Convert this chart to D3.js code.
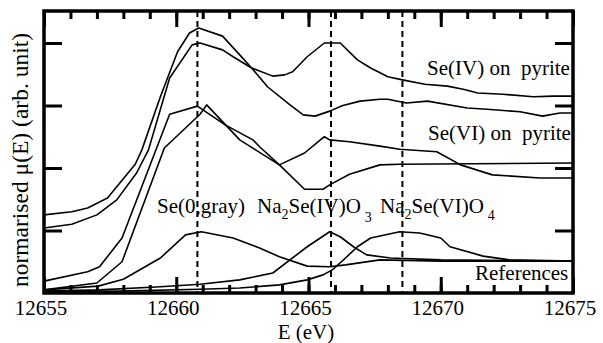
<!DOCTYPE html>
<html>
<head>
<meta charset="utf-8">
<script src="https://cdn.jsdelivr.net/npm/d3@7"></script>
<style>
  body { margin: 0; background: #fff; }
</style>
</head>
<body>
<div id="chart"></div>
<script>
// spectra: [energy (eV), normalised mu(E)]
var se4PyriteA = [[12655.0,1.25],[12656.05,1.30],[12656.65,1.36],[12657.4,1.52],[12658.45,2.06],[12658.7,2.29],
  [12659.4,3.14],[12660.05,3.86],[12660.5,4.16],[12660.85,4.24],[12661.75,4.11],[12662.4,3.81],[12662.85,3.60],
  [12663.45,3.30],[12664.3,3.01],[12664.8,2.85],[12665.25,2.83],[12665.8,2.91],[12666.3,3.00],[12666.95,3.07],
  [12667.7,3.10],[12668.0,3.10],[12668.7,3.04],[12669.5,3.07],[12671.0,2.96],[12671.75,2.94],[12673.0,2.90],
  [12673.85,2.83],[12674.5,2.88],[12675,2.88]];
var se4PyriteB = [[12655.0,1.04],[12656.05,1.10],[12657.0,1.25],[12657.75,1.49],[12658.5,1.92],[12658.95,2.29],
  [12659.75,3.44],[12660.6,3.97],[12660.9,4.00],[12661.75,3.89],[12662.15,3.78],[12662.85,3.60],[12663.65,3.47],
  [12664.1,3.49],[12664.4,3.54],[12664.95,3.78],[12665.6,4.00],[12666.2,4.00],[12666.85,3.73],[12667.35,3.60],
  [12668.0,3.46],[12668.55,3.41],[12669.4,3.34],[12670.25,3.31],[12670.85,3.26],[12671.4,3.20],[12672.35,3.18],
  [12673.5,3.14],[12674.25,3.15],[12675,3.15]];
var se6PyriteA = [[12655.0,0.19],[12656.65,0.34],[12657.1,0.42],[12657.95,0.88],[12659.75,2.86],[12660.8,2.99],
  [12661.85,2.69],[12662.9,2.45],[12663.15,2.34],[12663.9,2.05],[12664.85,1.66],[12665.55,1.66],[12665.8,1.73],
  [12666.55,1.90],[12667.7,2.05],[12668.45,2.06],[12675,2.08]];
var se6PyriteB = [[12655.0,0.05],[12657.0,0.16],[12657.95,0.50],[12659.55,2.32],[12660.9,2.86],[12661.15,3.01],
  [12662.4,2.45],[12663.9,2.05],[12664.85,2.24],[12665.45,2.45],[12665.6,2.50],[12665.8,2.45],[12666.55,2.42],
  [12667.7,2.35],[12668.45,2.30],[12669.85,2.26],[12670.75,2.05],[12671.95,1.89],[12673.75,1.84],[12675,1.84]];
var refSe0 = [[12655.0,0.05],[12657.05,0.11],[12658.0,0.22],[12659.4,0.56],[12660.35,0.93],[12660.95,0.98],
  [12662.15,0.88],[12663.15,0.72],[12663.9,0.58],[12664.95,0.43],[12665.8,0.42],[12666.4,0.45],[12667.7,0.53],
  [12670.0,0.51],[12675,0.51]];
var refSeO3 = [[12655.0,0.03],[12657.1,0.05],[12659.4,0.10],[12660.9,0.14],[12662.4,0.21],[12663.65,0.32],
  [12664.3,0.53],[12664.95,0.74],[12665.8,0.98],[12666.2,0.90],[12666.7,0.74],[12667.2,0.61],[12668.1,0.56],
  [12670.0,0.53],[12675,0.51]];
var refSeO4 = [[12655.0,0.02],[12657.85,0.03],[12660.9,0.06],[12662.4,0.08],[12663.9,0.13],[12664.95,0.21],
  [12665.55,0.29],[12665.9,0.37],[12666.4,0.56],[12666.85,0.74],[12667.35,0.88],[12668.45,0.98],[12669.2,0.96],
  [12670.0,0.88],[12670.35,0.74],[12671.6,0.59],[12672.6,0.53],[12675,0.51]];

var edgeLines = [12660.8, 12665.85, 12668.55];
var xTicks = [12655, 12660, 12665, 12670, 12675];
var xMinorTicks = d3.range(12655, 12676, 1);
var yTicks = [1, 2, 3, 4];

var allCurves = [se4PyriteA, se4PyriteB, se6PyriteA, se6PyriteB, refSe0, refSeO3, refSeO4];

var serif = "Liberation Serif";

// margin setup
var margin = {top: 11, right: 30, bottom: 50, left: 44},
    width = 603 - margin.left - margin.right,
    height = 343 - margin.top - margin.bottom;

var svg = d3.select("#chart")
  .append("svg")
    .attr("width", 603)
    .attr("height", 343)
  .append("g")
    .attr("transform", "translate(" + margin.left + "," + margin.top + ")");

var x = d3.scaleLinear()
    .domain([12655, 12675])
    .range([0, width]);

var y = d3.scaleLinear()
    .domain([0, height / 62.5])
    .range([height, 0]);

// dashed edge positions
svg.selectAll(".edge")
    .data(edgeLines)
    .enter().append("line")
    .attr("x1", d => x(d)).attr("x2", d => x(d))
    .attr("y1", 0).attr("y2", height)
    .attr("stroke", "black")
    .attr("stroke-width", 2)
    .attr("stroke-dasharray", "6,4");

// spectra
var line = d3.line()
    .x(d => x(d[0]))
    .y(d => y(d[1]));

svg.selectAll(".curve")
    .data(allCurves)
    .enter().append("path")
    .attr("d", line)
    .attr("fill", "none")
    .attr("stroke", "black")
    .attr("stroke-width", 1.6)
    .attr("stroke-linejoin", "round");

// inward ticks on all four sides
function tickAxis(axis, values, size, transform) {
    var g = svg.append("g")
        .attr("transform", transform)
        .call(axis.tickValues(values).tickSize(-size).tickFormat(""));
    g.select(".domain").remove();
    g.selectAll(".tick line").attr("stroke", "black").attr("stroke-width", 3);
    return g;
}
tickAxis(d3.axisBottom(x), xMinorTicks, 8, "translate(0," + height + ")");
tickAxis(d3.axisBottom(x), xTicks, 16, "translate(0," + height + ")");
tickAxis(d3.axisTop(x), xMinorTicks, 8, "translate(0,0)");
tickAxis(d3.axisTop(x), xTicks, 16, "translate(0,0)");
tickAxis(d3.axisLeft(y), yTicks, 18, "translate(0,0)");
tickAxis(d3.axisRight(y), yTicks, 18, "translate(" + width + ",0)");

// frame
svg.append("rect")
    .attr("width", width)
    .attr("height", height)
    .attr("fill", "none")
    .attr("stroke", "black")
    .attr("stroke-width", 3.5);

// tick labels
svg.selectAll(".xlabel")
    .data(xTicks)
    .enter().append("text")
    .attr("x", d => x(d) - 3)
    .attr("y", height + 22)
    .attr("text-anchor", "middle")
    .attr("font-family", serif)
    .attr("font-size", 21)
    .text(d => d);

// axis titles
svg.append("text")
    .attr("x", 262)
    .attr("y", 328)
    .attr("text-anchor", "middle")
    .attr("font-family", serif)
    .attr("font-size", 21)
    .text("E (eV)");

svg.append("text")
    .attr("transform", "rotate(-90)")
    .attr("x", -(160 - margin.top))
    .attr("y", 28 - margin.left)
    .attr("text-anchor", "middle")
    .attr("font-family", serif)
    .attr("font-size", 23.5)
    .text("normarised \u03bc(E) (arb. unit)");

// curve labels
function label(px, py, parts) {
    var t = svg.append("text")
        .attr("x", px - margin.left)
        .attr("y", py - margin.top)
        .attr("font-family", serif)
        .attr("font-size", 21)
        .style("white-space", "pre");
    parts.forEach(function(p) {
        var s = t.append("tspan").text(p.t);
        if (p.sub) s.attr("font-size", 14).attr("dy", p.sub).attr("dx", p.dx || 0);
        if (p.up) s.attr("dy", -p.up);
    });
}
label(427, 75, [{t: "Se(IV) on  pyrite"}]);
label(428, 140, [{t: "Se(VI) on  pyrite"}]);
label(157, 213, [{t: "Se(0,gray)"}]);
label(257, 213, [{t: "Na"}, {t: "2", sub: 6}, {t: "Se(IV)O", up: 6}, {t: "3", sub: 9, dx: 4}]);
label(380, 213, [{t: "Na"}, {t: "2", sub: 6}, {t: "Se(VI)O", up: 6}, {t: "4", sub: 7, dx: 4}]);
label(475, 280, [{t: "References"}]);
</script>
</body>
</html>
